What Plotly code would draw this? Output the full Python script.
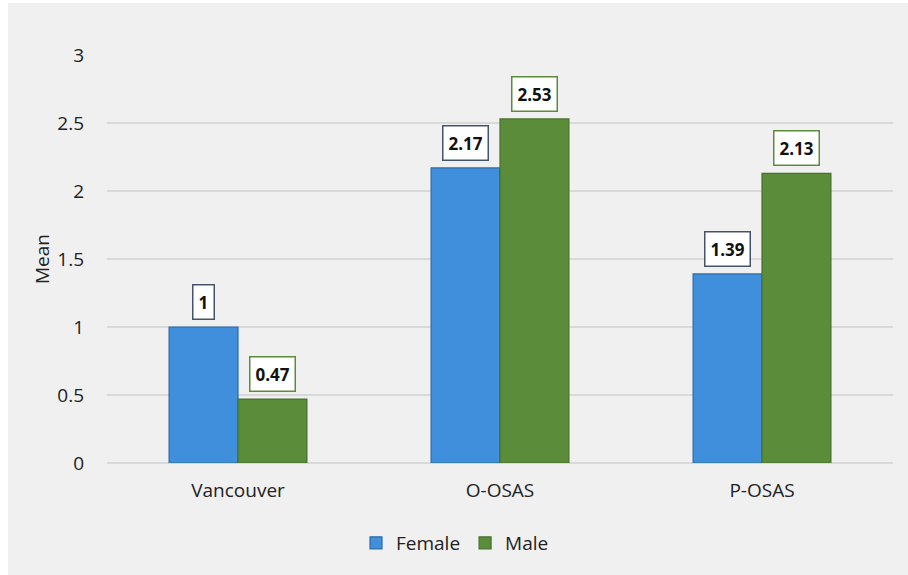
import plotly.graph_objects as go

categories = ["Vancouver", "O-OSAS", "P-OSAS"]
female = [1.0, 2.17, 1.39]
male = [0.47, 2.53, 2.13]
female_labels = ["1", "2.17", "1.39"]
male_labels = ["0.47", "2.53", "2.13"]
y_ticks = [0, 0.5, 1, 1.5, 2, 2.5, 3]
y_ticktext = ["0", "0.5", "1", "1.5", "2", "2.5", "3"]

W, H = 908, 575
ml, mr, mt, mb = 107, 15, 55, 112
pw, ph = W - ml - mr, H - mt - mb
bargap = 0.474
FONT = "Open Sans"

fig = go.Figure()
fig.add_trace(go.Bar(
    name="Female", x=categories, y=female,
    marker=dict(color="#3f8fdc", line=dict(color="#2f6aa6", width=1.2)),
))
fig.add_trace(go.Bar(
    name="Male", x=categories, y=male,
    marker=dict(color="#5b8c3a", line=dict(color="#46712c", width=1.2)),
))

half = (1 - bargap) / 4
for i in range(len(categories)):
    fig.add_annotation(
        x=i - half, y=female[i], text="<b>" + female_labels[i] + "</b>",
        showarrow=False, yanchor="bottom", yshift=7,
        bgcolor="white", bordercolor="#44546a", borderwidth=1.5, borderpad=5,
        font=dict(family=FONT, size=17, color="#111111"),
    )
    fig.add_annotation(
        x=i + half, y=male[i], text="<b>" + male_labels[i] + "</b>",
        showarrow=False, yanchor="bottom", yshift=7,
        bgcolor="white", bordercolor="#5b8c3a", borderwidth=1.5, borderpad=5,
        font=dict(family=FONT, size=17, color="#111111"),
    )

# white strips at top and left edges of the picture
fig.add_shape(type="rect", xref="paper", yref="paper", layer="below",
              x0=(0 - ml) / pw - 0.1, x1=(8 - ml) / pw, y0=-0.5, y1=1.5,
              fillcolor="white", line=dict(width=0))
fig.add_shape(type="rect", xref="paper", yref="paper", layer="below",
              x0=(0 - ml) / pw - 0.1, x1=(W - ml) / pw + 0.1,
              y0=(H - mb - 3) / ph, y1=(H - mb) / ph + 0.2,
              fillcolor="white", line=dict(width=0))

fig.update_layout(
    width=W, height=H,
    margin=dict(l=ml, r=mr, t=mt, b=mb),
    paper_bgcolor="#f0f0f0", plot_bgcolor="#f0f0f0",
    barmode="group", bargap=bargap, bargroupgap=0,
    font=dict(family=FONT, size=19, color="#222222"),
    showlegend=True,
    legend=dict(orientation="h", x=(455 - ml) / pw, xanchor="center", y=-0.196, yanchor="middle",
                font=dict(family=FONT, size=19, color="#222222"),
                itemwidth=30, tracegroupgap=0, bgcolor="rgba(0,0,0,0)"),
    xaxis=dict(showgrid=False, showline=False, ticks="", tickfont=dict(size=19),
               ticklabelstandoff=14),
    yaxis=dict(range=[0, 3], tickvals=y_ticks, ticktext=y_ticktext,
               showgrid=True, gridcolor="#d9d9d9", gridwidth=1.5,
               zeroline=True, zerolinecolor="#d9d9d9", zerolinewidth=1.5,
               showline=False, ticks="", tickfont=dict(size=19),
               ticklabelstandoff=22,
               title=dict(text="Mean", font=dict(size=19), standoff=2)),
)

fig.write_html("out.html")
